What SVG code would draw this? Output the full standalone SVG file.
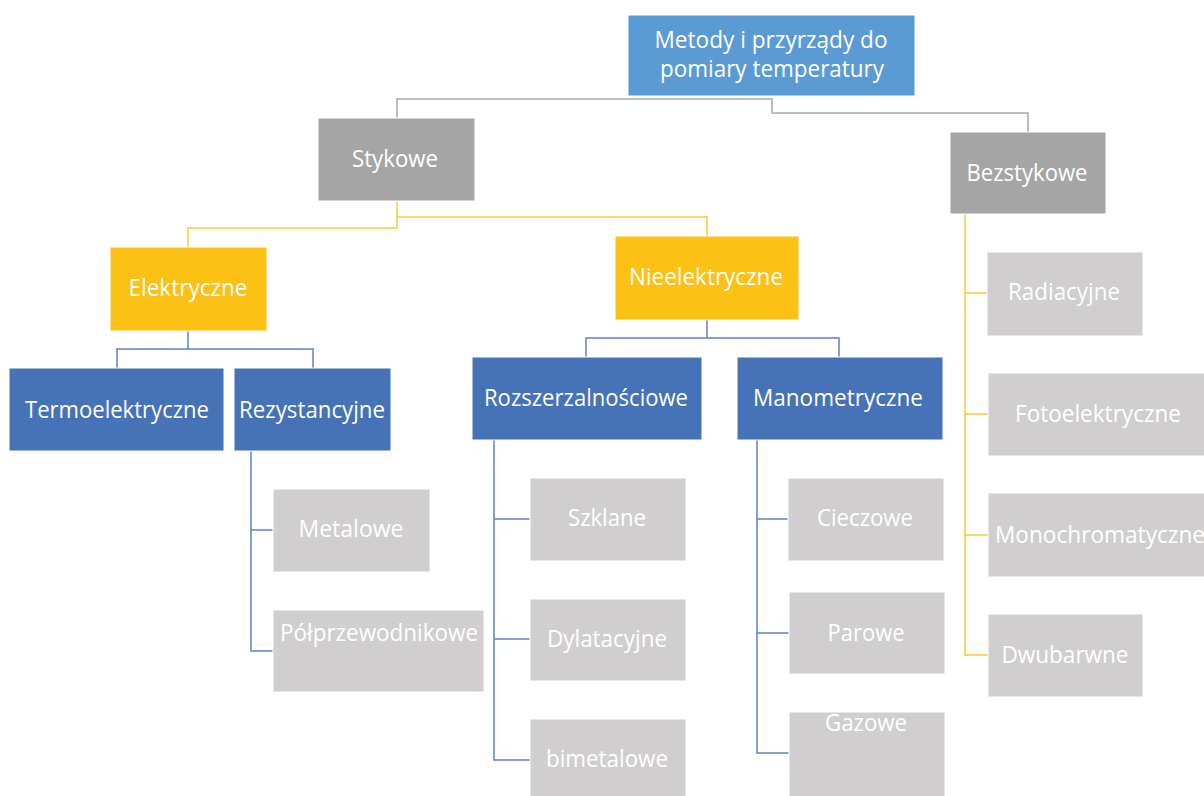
<svg xmlns="http://www.w3.org/2000/svg" width="1204" height="796" viewBox="0 0 1204 796">
  <style>
    .box { stroke: #ffffff; stroke-width: 1; }
    .root { fill: #5b9bd5; }
    .grey { fill: #a5a5a5; }
    .gold { fill: #fdc014; }
    .blue { fill: #4672b8; }
    .leaf { fill: #d0cece; }
    text { font-family: "Open Sans", "Noto Sans", sans-serif; font-size: 23.5px; fill: #ffffff; text-anchor: middle; }
    .c-grey { fill: none; stroke: #a9a9a9; stroke-width: 1.5; }
    .c-gold { fill: none; stroke: #ffc83a; stroke-width: 1.5; }
    .c-blue { fill: none; stroke: #5b83cc; stroke-width: 1.5; }
  </style>
  <rect width="1204" height="796" fill="#ffffff"/>

  <g id="connectors">
    <path class="c-grey" d="M397,118 V99 H772 V113 H1028 V132"/>
    <path class="c-gold" d="M397,201 V217 H707 V236"/>
    <path class="c-gold" d="M397,217 V228 H188 V247"/>
    <path class="c-blue" d="M188,331 V349 M117,368 V349 H313 V368"/>
    <path class="c-blue" d="M707,320 V338 M586,357 V338 H839 V357"/>
    <path class="c-blue" d="M251,451 V651 H273 M251,530 H273"/>
    <path class="c-blue" d="M494,440 V760 H530 M494,519 H530 M494,639 H530"/>
    <path class="c-blue" d="M757,440 V753 H789 M757,519 H788 M757,633 H789"/>
    <path class="c-gold" d="M965,214 V655 H988 M965,293 H987 M965,414 H988 M965,535 H988"/>
  </g>

  <g id="node-root">
    <rect class="box root" x="628" y="15" width="287" height="81"/>
    <text x="771" y="48" textLength="233" lengthAdjust="spacingAndGlyphs">Metody i przyrządy do</text>
    <text x="772" y="77" textLength="224" lengthAdjust="spacingAndGlyphs">pomiary temperatury</text>
  </g>
  <g id="node-stykowe">
    <rect class="box grey" x="318" y="118" width="157" height="83"/>
    <text x="395" y="167" textLength="86" lengthAdjust="spacingAndGlyphs">Stykowe</text>
  </g>
  <g id="node-bezstykowe">
    <rect class="box grey" x="950" y="132" width="156" height="82"/>
    <text x="1027" y="181" textLength="121" lengthAdjust="spacingAndGlyphs">Bezstykowe</text>
  </g>
  <g id="node-elektryczne">
    <rect class="box gold" x="110" y="247" width="157" height="84"/>
    <text x="188" y="296" textLength="119" lengthAdjust="spacingAndGlyphs">Elektryczne</text>
  </g>
  <g id="node-nieelektryczne">
    <rect class="box gold" x="615" y="236" width="184" height="84"/>
    <text x="706" y="285" textLength="154" lengthAdjust="spacingAndGlyphs">Nieelektryczne</text>
  </g>
  <g id="node-termoelektryczne">
    <rect class="box blue" x="9" y="368" width="215" height="83"/>
    <text x="117" y="418" textLength="184" lengthAdjust="spacingAndGlyphs">Termoelektryczne</text>
  </g>
  <g id="node-rezystancyjne">
    <rect class="box blue" x="234" y="368" width="157" height="83"/>
    <text x="312" y="418" textLength="146" lengthAdjust="spacingAndGlyphs">Rezystancyjne</text>
  </g>
  <g id="node-rozszerzalnosciowe">
    <rect class="box blue" x="472" y="357" width="230" height="83"/>
    <text x="586" y="406" textLength="204" lengthAdjust="spacingAndGlyphs">Rozszerzalnościowe</text>
  </g>
  <g id="node-manometryczne">
    <rect class="box blue" x="737" y="357" width="206" height="83"/>
    <text x="838" y="406" textLength="170" lengthAdjust="spacingAndGlyphs">Manometryczne</text>
  </g>

  <g id="node-metalowe">
    <rect class="box leaf" x="273" y="489" width="157" height="83"/>
    <text x="351" y="537" textLength="105" lengthAdjust="spacingAndGlyphs">Metalowe</text>
  </g>
  <g id="node-polprzewodnikowe">
    <rect class="box leaf" x="273" y="610" width="211" height="82"/>
    <text x="379" y="641" textLength="198" lengthAdjust="spacingAndGlyphs">Półprzewodnikowe</text>
  </g>
  <g id="node-szklane">
    <rect class="box leaf" x="530" y="478" width="156" height="83"/>
    <text x="607" y="526" textLength="78" lengthAdjust="spacingAndGlyphs">Szklane</text>
  </g>
  <g id="node-dylatacyjne">
    <rect class="box leaf" x="530" y="599" width="156" height="82"/>
    <text x="607" y="647" textLength="120" lengthAdjust="spacingAndGlyphs">Dylatacyjne</text>
  </g>
  <g id="node-bimetalowe">
    <rect class="box leaf" x="530" y="719" width="156" height="82"/>
    <text x="607" y="767" textLength="122" lengthAdjust="spacingAndGlyphs">bimetalowe</text>
  </g>
  <g id="node-cieczowe">
    <rect class="box leaf" x="788" y="478" width="156" height="83"/>
    <text x="865" y="526" textLength="96" lengthAdjust="spacingAndGlyphs">Cieczowe</text>
  </g>
  <g id="node-parowe">
    <rect class="box leaf" x="789" y="592" width="156" height="82"/>
    <text x="866" y="641" textLength="77" lengthAdjust="spacingAndGlyphs">Parowe</text>
  </g>
  <g id="node-gazowe">
    <rect class="box leaf" x="789" y="712" width="156" height="90"/>
    <text x="866" y="731" textLength="82" lengthAdjust="spacingAndGlyphs">Gazowe</text>
  </g>
  <g id="node-radiacyjne">
    <rect class="box leaf" x="987" y="252" width="156" height="84"/>
    <text x="1064" y="300" textLength="112" lengthAdjust="spacingAndGlyphs">Radiacyjne</text>
  </g>
  <g id="node-fotoelektryczne">
    <rect class="box leaf" x="988" y="373" width="222" height="83"/>
    <text x="1098" y="422" textLength="166" lengthAdjust="spacingAndGlyphs">Fotoelektryczne</text>
  </g>
  <g id="node-monochromatyczne">
    <rect class="box leaf" x="988" y="493" width="222" height="84"/>
    <text x="1100" y="543" textLength="210" lengthAdjust="spacingAndGlyphs">Monochromatyczne</text>
  </g>
  <g id="node-dwubarwne">
    <rect class="box leaf" x="988" y="614" width="155" height="83"/>
    <text x="1065" y="663" textLength="127" lengthAdjust="spacingAndGlyphs">Dwubarwne</text>
  </g>
</svg>
